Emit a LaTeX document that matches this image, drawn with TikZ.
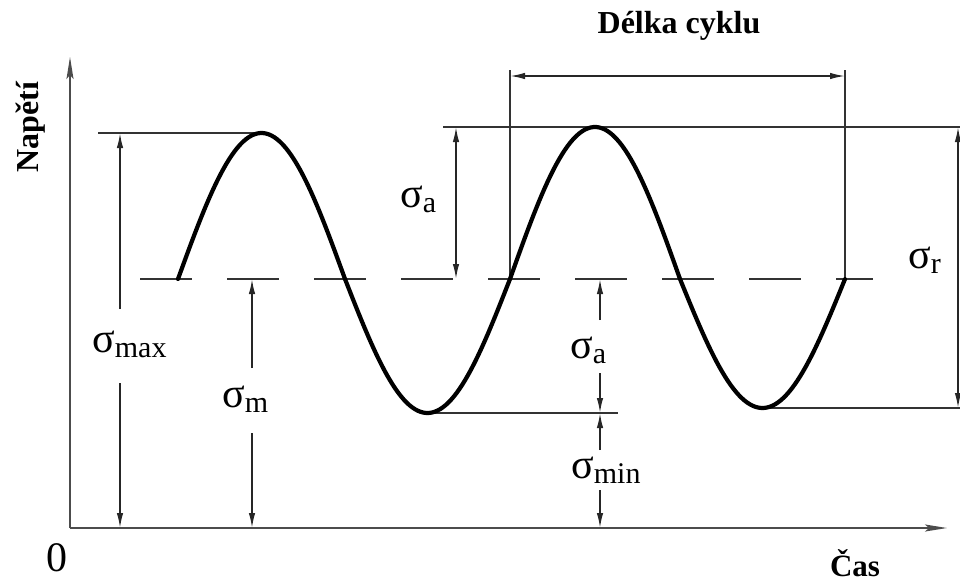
\documentclass[tikz,border=0pt]{standalone}
\usepackage{fontspec}
\setmainfont{Liberation Serif}
\usetikzlibrary{arrows.meta}
\newcommand{\sgm}[1]{{\fontsize{42}{42}\selectfont σ}\raisebox{-5pt}{\fontsize{30}{30}\selectfont #1}}
\begin{document}
\begin{tikzpicture}[x=1pt,y=-1pt,
  axis/.style={line width=1.8pt, draw=black!70, -{Stealth[length=22pt,width=7pt,inset=4pt]}},
  refl/.style={line width=1.6pt, draw=black!80},
  dimln/.style={line width=1.6pt, draw=black!85, -{Latex[length=15pt,width=6.5pt]}},
  dimboth/.style={line width=1.6pt, draw=black!85, {Latex[length=15pt,width=6.5pt]}-{Latex[length=15pt,width=6.5pt]}},
  wave/.style={line width=4.2pt, line join=round, line cap=round},
  dashln/.style={line width=1.6pt, draw=black!80, dash pattern=on 52pt off 35pt},
  sglab/.style={inner sep=0pt, anchor=base west},
  boldlab/.style={inner sep=0pt, anchor=base, font=\fontsize{32}{32}\selectfont\bfseries}
]
\useasboundingbox (0,0) rectangle (960,584);

% axes
\coordinate (O) at (70,528);
\coordinate (ytop) at (70,57);
\coordinate (xend) at (947,528);
\draw[axis] (O) -- (ytop);
\draw[axis] (O) -- (xend);

% reference lines
\coordinate (p1l) at (98,133);   \coordinate (p1) at (262,133);
\coordinate (p2l) at (443,127);  \coordinate (p2r) at (960,127);
\coordinate (t1) at (428,413);   \coordinate (t1r) at (618,413);
\coordinate (t2) at (762,408);   \coordinate (t2r) at (960,408);
\draw[refl] (p1l) -- (p1);
\draw[refl] (p2l) -- (p2r);
\draw[refl] (t1) -- (t1r);
\draw[refl] (t2) -- (t2r);

% mean dashed line
\coordinate (dl) at (140,279); \coordinate (dr) at (873,279);
\draw[dashln] (dl) -- (dr);

% cycle length
\coordinate (c1t) at (510,70); \coordinate (c1b) at (510,279);
\coordinate (c2t) at (845,70); \coordinate (c2b) at (845,279);
\draw[refl] (c1t) -- (c1b);
\draw[refl] (c2t) -- (c2b);
\coordinate (ca) at (510,76); \coordinate (cb) at (845,76);
\draw[dimboth] (ca) -- (cb);

% wave
\draw[wave] plot[domain=178:345, samples=60] (\x, {279-146*sin((\x-178)/167*180)})
  -- plot[domain=345:510, samples=60] (\x, {279+134*sin((\x-345)/165*180)})
  -- plot[domain=510:680, samples=60] (\x, {279-152*sin((\x-510)/170*180)})
  -- plot[domain=680:845, samples=60] (\x, {279+129*sin((\x-680)/165*180)});

% labels
\node[sglab] (smax) at (92,352) {\sgm{max}};
\node[sglab] (sm) at (222,407) {\sgm{m}};
\node[sglab] (sa1) at (400,207) {\sgm{a}};
\node[sglab] (sa2) at (570,358) {\sgm{a}};
\node[sglab] (smin) at (571,478) {\sgm{min}};
\node[sglab] (sr) at (908,268) {\sgm{r}};

% dimension arrows
\coordinate (mx1) at (120,309); \coordinate (mx1e) at (120,133);
\coordinate (mx2) at (120,383); \coordinate (mx2e) at (120,528);
\draw[dimln] (mx1) -- (mx1e);
\draw[dimln] (mx2) -- (mx2e);

\coordinate (m1) at (252,368); \coordinate (m1e) at (252,279);
\coordinate (m2) at (252,433); \coordinate (m2e) at (252,528);
\draw[dimln] (m1) -- (m1e);
\draw[dimln] (m2) -- (m2e);

\coordinate (a1t) at (456,127); \coordinate (a1b) at (456,279);
\draw[dimboth] (a1t) -- (a1b);

\coordinate (a2) at (600,320); \coordinate (a2e) at (600,279);
\coordinate (a3) at (600,373); \coordinate (a3e) at (600,413);
\draw[dimln] (a2) -- (a2e);
\draw[dimln] (a3) -- (a3e);

\coordinate (n1) at (600,450); \coordinate (n1e) at (600,413);
\coordinate (n2) at (600,490); \coordinate (n2e) at (600,528);
\draw[dimln] (n1) -- (n1e);
\draw[dimln] (n2) -- (n2e);

\coordinate (rt) at (958,127); \coordinate (rb) at (958,408);
\draw[dimboth] (rt) -- (rb);

% titles
\node[boldlab] (delka) at (679,33) {Délka cyklu};
\node[boldlab, font=\fontsize{31}{31}\selectfont\bfseries] (cas) at (855,576) {Čas};
\node[boldlab, rotate=90] (nap) at (38,127) {Napětí};
\node[inner sep=0pt, anchor=base, font=\fontsize{42}{42}\selectfont] (zero) at (57,571) {0};
\end{tikzpicture}
\end{document}
